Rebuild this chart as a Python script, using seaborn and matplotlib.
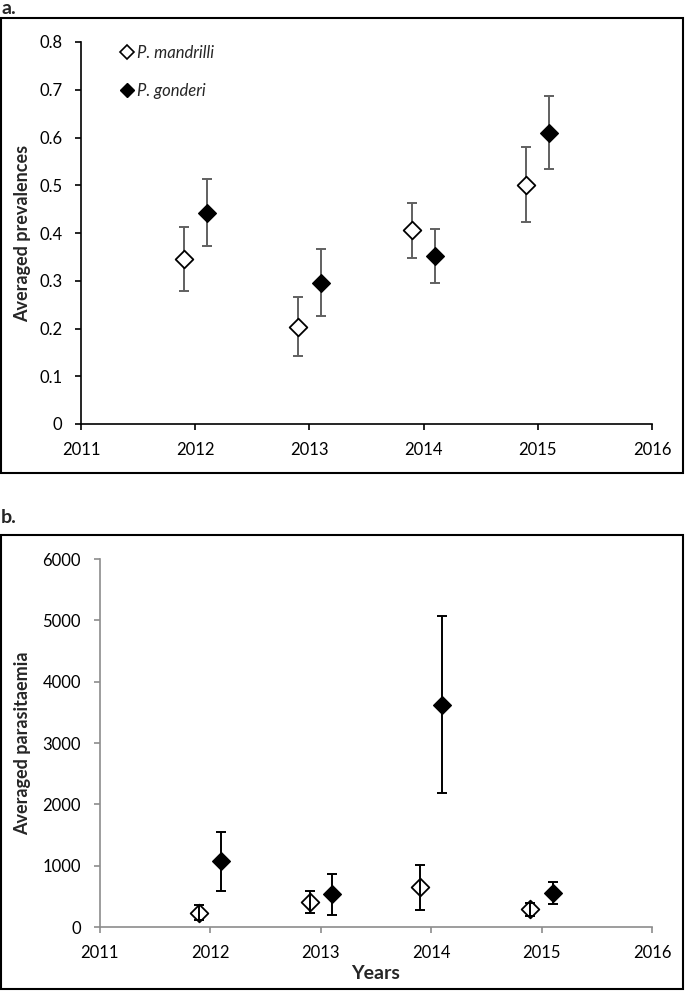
import numpy as np
import pandas as pd
import matplotlib
matplotlib.use("Agg")
import matplotlib.pyplot as plt
import seaborn as sns
from matplotlib.patches import Rectangle
from matplotlib.lines import Line2D

# Data
years = [2012, 2013, 2014, 2015]
species = ["P. mandrilli", "P. gonderi"]
offsets = [-0.1, 0.1]

prev_mandrilli = [0.346, 0.204, 0.406, 0.500]
prev_mandrilli_lo = [0.279, 0.143, 0.348, 0.423]
prev_mandrilli_hi = [0.413, 0.267, 0.463, 0.580]
prev_gonderi = [0.442, 0.295, 0.351, 0.610]
prev_gonderi_lo = [0.373, 0.226, 0.296, 0.534]
prev_gonderi_hi = [0.513, 0.366, 0.408, 0.687]

para_mandrilli = [233, 407, 651, 288]
para_mandrilli_lo = [109, 228, 282, 185]
para_mandrilli_hi = [353, 581, 1004, 396]
para_gonderi = [1069, 532, 3626, 554]
para_gonderi_lo = [581, 201, 2188, 380]
para_gonderi_hi = [1547, 869, 5076, 733]

x_ticks = [2011, 2012, 2013, 2014, 2015, 2016]
prev_ticks = [0, 0.1, 0.2, 0.3, 0.4, 0.5, 0.6, 0.7, 0.8]
para_ticks = [0, 1000, 2000, 3000, 4000, 5000, 6000]


def make_df(vals_m, lo_m, hi_m, vals_g, lo_g, hi_g):
    rows = []
    for sp, off, v, lo, hi in [(species[0], offsets[0], vals_m, lo_m, hi_m),
                               (species[1], offsets[1], vals_g, lo_g, hi_g)]:
        for yr, a, b, c in zip(years, v, lo, hi):
            rows.append({"species": sp, "x": yr + off, "value": a, "lo": b, "hi": c})
    return pd.DataFrame(rows)


prev_df = make_df(prev_mandrilli, prev_mandrilli_lo, prev_mandrilli_hi,
                  prev_gonderi, prev_gonderi_lo, prev_gonderi_hi)
para_df = make_df(para_mandrilli, para_mandrilli_lo, para_mandrilli_hi,
                  para_gonderi, para_gonderi_lo, para_gonderi_hi)

sns.set_style("white")
plt.rcParams["font.family"] = ["Lato", "DejaVu Sans"]

W, H = 685, 991
fig = plt.figure(figsize=(W / 100, H / 100), dpi=100)

# panel frames
fig.add_artist(Rectangle((1 / W, 1 - 473 / H), 682 / W, (473 - 18) / H, transform=fig.transFigure,
                         fill=False, lw=1.5, ec="black"))
fig.add_artist(Rectangle((1 / W, 1 - 989 / H), 682 / W, (989 - 535) / H, transform=fig.transFigure,
                         fill=False, lw=1.5, ec="black"))
fig.text(1 / W, 1 - 0 / H, "a.", ha="left", va="top", fontsize=14, fontweight="bold")
fig.text(1 / W, 1 - 509 / H, "b.", ha="left", va="top", fontsize=14, fontweight="bold")

ax1 = fig.add_axes([81 / W, 1 - 424 / H, (652 - 81) / W, (424 - 42) / H])
ax2 = fig.add_axes([99.6 / W, 1 - 927 / H, (652 - 99.6) / W, (927 - 559) / H])


def draw(ax, df, err_color, ms, err_on_top):
    z_err, z_mk = (4, 3) if err_on_top else (2, 3)
    for sp in species:
        d = df[df["species"] == sp]
        ax.errorbar(d["x"], d["value"], yerr=[d["value"] - d["lo"], d["hi"] - d["value"]],
                    fmt="none", ecolor=err_color, elinewidth=1.4, capsize=3.3, capthick=1.4,
                    zorder=z_err)
    d = df[df["species"] == species[0]]
    sns.scatterplot(data=d, x="x", y="value", marker="D", s=ms ** 2, color="white",
                    edgecolor="black", linewidth=1.3, ax=ax, zorder=z_mk, legend=False)
    d = df[df["species"] == species[1]]
    sns.scatterplot(data=d, x="x", y="value", marker="D", s=ms ** 2, color="black",
                    edgecolor="black", linewidth=1.0, ax=ax, zorder=z_mk, legend=False)


draw(ax1, prev_df, "#606060", 9, False)
draw(ax2, para_df, "black", 9, True)

for ax, ticks, lim, spine_col in [(ax1, prev_ticks, (0, 0.8), "black"),
                                  (ax2, para_ticks, (0, 6000), "#8c8c8c")]:
    ax.set_xlim(2011, 2016)
    ax.set_ylim(*lim)
    ax.set_xticks(x_ticks)
    ax.set_xticklabels([str(t) for t in x_ticks])
    ax.set_yticks(ticks)
    ax.set_yticklabels([f"{t:g}" for t in ticks])
    for s in ["top", "right"]:
        ax.spines[s].set_visible(False)
    for s in ["left", "bottom"]:
        ax.spines[s].set_color(spine_col)
        ax.spines[s].set_linewidth(1.2)
    ax.tick_params(axis="both", which="both", direction="out", length=4.5, width=1.2,
                   color=spine_col, labelsize=12, labelcolor="black", left=True, bottom=True)
    ax.tick_params(axis="y", pad=9)
    ax.tick_params(axis="x", pad=8.5)
    ax.set_xlabel("")

ax1.set_ylabel("Averaged prevalences", fontsize=13, fontweight="bold")
ax1.yaxis.set_label_coords(-0.088, 0.5)
ax2.set_ylabel("Averaged parasitaemia", fontsize=13, fontweight="bold")
ax2.yaxis.set_label_coords(-0.124, 0.5)
ax2.set_xlabel("Years", fontsize=14, fontweight="bold")
ax2.xaxis.set_label_coords(0.5, -0.104)

handles = [Line2D([], [], marker="D", ls="none", ms=7, mfc="white", mec="black", mew=1.2),
           Line2D([], [], marker="D", ls="none", ms=7, mfc="black", mec="black")]
leg = ax1.legend(handles, species, loc="upper left", bbox_to_anchor=(0.045, 1.031), frameon=False,
                 handlelength=0.6, handletextpad=0.3, labelspacing=1.3,
                 prop={"style": "italic", "size": 12})

fig.savefig("out.png", dpi=100)
